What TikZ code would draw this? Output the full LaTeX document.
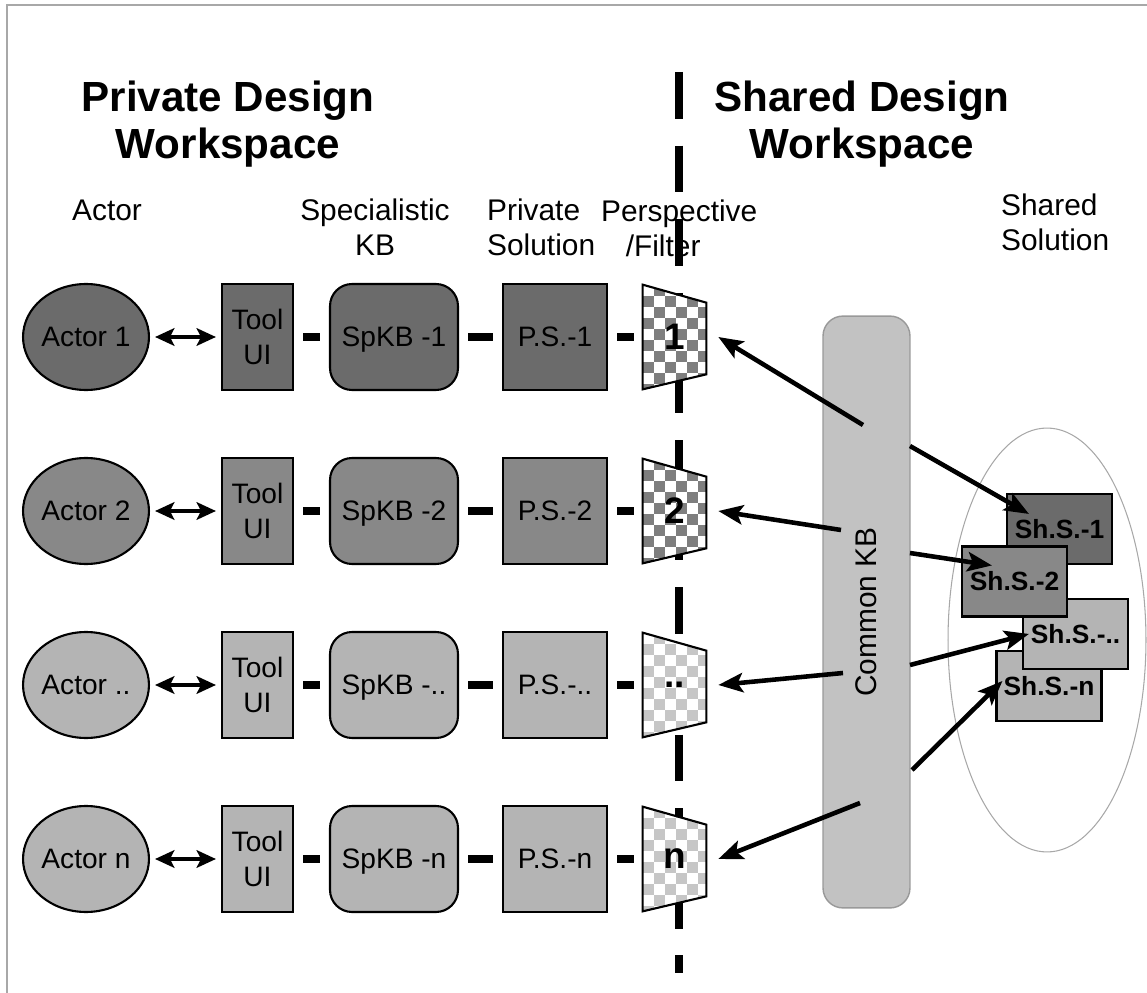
\documentclass[tikz,border=0pt]{standalone}
\usepackage{fontspec}
\setmainfont{Liberation Sans}
\usetikzlibrary{shapes.geometric, arrows.meta, positioning, calc}

\definecolor{rowdark}{HTML}{6B6B6B}
\definecolor{rowmid}{HTML}{888888}
\definecolor{rowlight}{HTML}{B4B4B4}
\definecolor{checkdark}{HTML}{7E7E7E}
\definecolor{checklight}{HTML}{C6C6C6}
\definecolor{kbgray}{HTML}{C2C2C2}
\definecolor{framegray}{HTML}{A8A8A8}

\begin{document}
\begin{tikzpicture}[x=0.02cm, y=-0.02cm,
    actor/.style={draw, ellipse, line width=1.2pt, minimum width=2.44cm, minimum height=2.12cm, inner sep=0pt, text depth=0pt, font=\fontsize{16}{19}\selectfont},
    tool/.style={draw, line width=1.2pt, minimum width=1.42cm, minimum height=2.12cm, inner sep=0pt, align=center, font=\fontsize{16}{20}\selectfont},
    spkb/.style={tool, rounded corners=0.44cm, minimum width=2.56cm, text depth=0pt},
    psol/.style={tool, minimum width=2.08cm, text depth=0pt},
    persp/.style={minimum width=1.26cm, minimum height=2.08cm, inner sep=0pt, font=\bfseries\fontsize{21}{24}\selectfont,
        path picture={
            \clip (path picture bounding box.north west) -- ($(path picture bounding box.north east)+(0,18)$)
                -- ($(path picture bounding box.south east)+(0,-15)$) -- (path picture bounding box.south west) -- cycle;
            \fill[white] (path picture bounding box.north west) rectangle (path picture bounding box.south east);
            \foreach \cx in {0,...,5} \foreach \cy in {0,...,9} {
                \pgfmathtruncatemacro\odd{mod(\cx+\cy,2)}
                \ifnum\odd=1 \fill[#1] ($(path picture bounding box.north west)+(\cx*11,\cy*11)$) rectangle +(11,11); \fi
            }
        }},
    shsol/.style={draw, line width=1.2pt, minimum width=2.1cm, minimum height=1.4cm, inner sep=0pt, font=\bfseries\fontsize{15}{18}\selectfont},
    kb/.style={draw=gray!80, fill=kbgray, line width=0.8pt, rounded corners=0.4cm, minimum width=11.84cm, minimum height=1.74cm, font=\fontsize{17}{20}\selectfont},
    heading/.style={font=\bfseries\fontsize{24}{26.6}\selectfont, align=center},
    colhead/.style={font=\fontsize{17}{20}\selectfont},
    link/.style={line width=4pt, shorten <=0.18cm, shorten >=0.18cm},
    dblarrow/.style={{Stealth[length=11pt,width=10pt,inset=2.5pt]}-{Stealth[length=11pt,width=10pt,inset=2.5pt]}, line width=2pt, shorten <=0.1cm, shorten >=0.1cm},
    arrow/.style={-{Stealth[length=14pt,width=11pt,inset=3pt]}, line width=2.6pt},
    divider/.style={line width=5pt, dash pattern=on 26.6pt off 15.3pt}
]
    \useasboundingbox (0,0) rectangle (1147,993);
    \draw[framegray, line width=1pt] (7,5) rectangle (1170,1020);

    % headings and column titles
    \node[heading] (privhead) at (228,124) {Private Design\\Workspace};
    \node[heading] (sharedhead) at (862,124) {Shared Design\\Workspace};
    \node[colhead] (actorhead) at (107,210) {Actor};
    \node[colhead, align=center] (spkbhead) at (375,227) {Specialistic\\KB};
    \node[colhead, align=left, anchor=west] (pshead) at (481,227) {Private\\Solution};
    \node[colhead, align=left, anchor=west] (persphead) at (595,228) {Perspective\\\hspace*{14pt}/Filter};
    \node[colhead, align=left, anchor=west] (shhead) at (995,222) {Shared\\Solution};

    % private / shared border
    \coordinate (divtop) at (679,72);
    \coordinate (divbot) at (679,973);
    \draw[divider] (divtop) -- (divbot);

    % actor rows
    \node[actor, fill=rowdark] (actor1) at (86,337) {Actor 1};
    \node[tool, fill=rowdark] (tool1) at (257.5,337) {Tool\\UI};
    \node[spkb, fill=rowdark] (spkb1) at (394,337) {SpKB -1};
    \node[psol, fill=rowdark] (ps1) at (555,337) {P.S.-1};
    \node[persp=checkdark] (filter1) at (674.5,337) {1};

    \node[actor, fill=rowmid] (actor2) at (86,511) {Actor 2};
    \node[tool, fill=rowmid] (tool2) at (257.5,511) {Tool\\UI};
    \node[spkb, fill=rowmid] (spkb2) at (394,511) {SpKB -2};
    \node[psol, fill=rowmid] (ps2) at (555,511) {P.S.-2};
    \node[persp=checkdark] (filter2) at (674.5,511) {2};

    \node[actor, fill=rowlight] (actor3) at (86,685) {Actor ..};
    \node[tool, fill=rowlight] (tool3) at (257.5,685) {Tool\\UI};
    \node[spkb, fill=rowlight] (spkb3) at (394,685) {SpKB -..};
    \node[psol, fill=rowlight] (ps3) at (555,685) {P.S.-..};
    \node[persp=checklight] (filter3) at (674.5,685) {..};

    \node[actor, fill=rowlight] (actor4) at (86,859) {Actor n};
    \node[tool, fill=rowlight] (tool4) at (257.5,859) {Tool\\UI};
    \node[spkb, fill=rowlight] (spkb4) at (394,859) {SpKB -n};
    \node[psol, fill=rowlight] (ps4) at (555,859) {P.S.-n};
    \node[persp=checklight] (filter4) at (674.5,859) {n};

    \foreach \r in {1,2,3,4} {
        \draw[dblarrow] (actor\r) -- (tool\r);
        \draw[link] (tool\r) -- (spkb\r);
        \draw[link] (spkb\r) -- (ps\r);
        \draw[link] (ps\r) -- (filter\r);
        \draw[line width=1.2pt] (filter\r.north west) -- ($(filter\r.north east)+(0,18)$)
            -- ($(filter\r.south east)+(0,-15)$) -- (filter\r.south west) -- cycle;
    }

    % common knowledge base and shared solutions
    \node[kb, rotate=90] (commonkb) at (866.5,612) {Common KB};
    \node[draw=framegray, ellipse, line width=0.6pt, minimum width=3.96cm, minimum height=8.48cm] (shpool) at (1047,640) {};
    \node[shsol, fill=rowlight] (shsn) at (1049,686) {Sh.S.-n};
    \node[shsol, fill=rowlight] (shs3) at (1075.5,634) {Sh.S.-..};
    \node[shsol, fill=rowdark] (shs1) at (1059.5,529) {Sh.S.-1};
    \node[shsol, fill=rowmid] (shs2) at (1014.5,581.5) {Sh.S.-2};

    \coordinate (kbin1) at (863,425);
    \coordinate (kbin2) at (841,530);
    \coordinate (kbin3) at (843,673);
    \coordinate (kbin4) at (860,803);
    \coordinate (kbout1) at (910,446);
    \coordinate (kbout2) at (910,553);
    \coordinate (kbout3) at (910,665);
    \coordinate (kbout4) at (912,770);

    \draw[arrow] (kbin1) -- ([xshift=0.24cm]filter1.east);
    \draw[arrow] (kbin2) -- ([xshift=0.24cm]filter2.east);
    \draw[arrow] (kbin3) -- ([xshift=0.24cm]filter3.east);
    \draw[arrow] (kbin4) -- ([xshift=0.24cm]filter4.east);

    \draw[arrow] (kbout1) -- ($(shs1.north west)+(23,21)$);
    \draw[arrow] (kbout2) -- ($(shs2.north west)+(31,20)$);
    \draw[arrow] (kbout3) -- ($(shs3.north west)+(7,36)$);
    \draw[arrow] (kbout4) -- ($(shsn.north west)+(7,31)$);
\end{tikzpicture}
\end{document}
